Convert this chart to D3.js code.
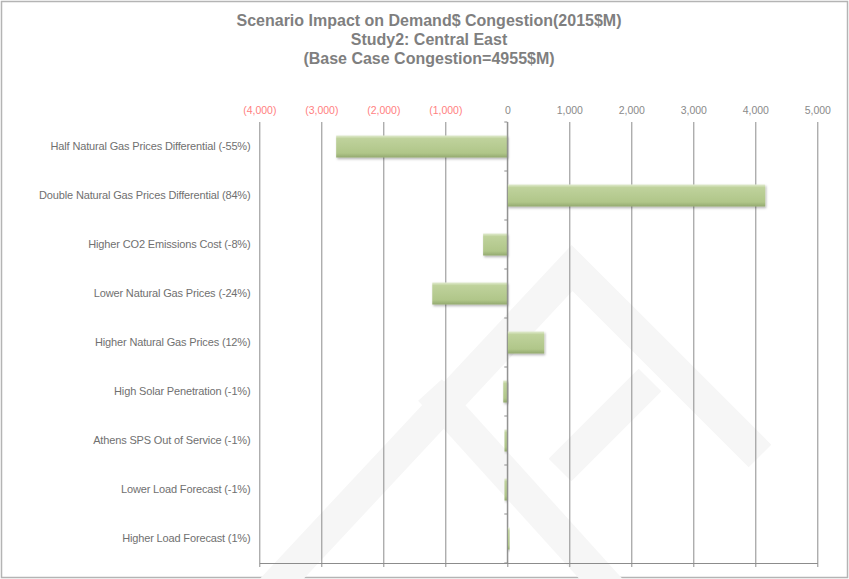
<!DOCTYPE html>
<html>
<head>
<meta charset="utf-8">
<script src="https://cdn.jsdelivr.net/npm/d3@7"></script>
<style>
  body { margin: 0; background: #fff; }
  svg { display: block; font-family: "Liberation Sans", Arial, sans-serif; }
</style>
</head>
<body>
<div id="chart"></div>
<script>
// data
var scenarios = [
  "Half Natural Gas Prices Differential (-55%)",
  "Double Natural Gas Prices Differential (84%)",
  "Higher CO2 Emissions Cost (-8%)",
  "Lower Natural Gas Prices (-24%)",
  "Higher Natural Gas Prices (12%)",
  "High Solar Penetration (-1%)",
  "Athens SPS Out of Service (-1%)",
  "Lower Load Forecast (-1%)",
  "Higher Load Forecast (1%)"
];
var impact = [-2760, 4160, -390, -1210, 595, -65, -45, -45, 35];
var tickValues = [-4000, -3000, -2000, -1000, 0, 1000, 2000, 3000, 4000, 5000];
var titleLines = [
  "Scenario Impact on Demand$ Congestion(2015$M)",
  "Study2: Central East",
  "(Base Case Congestion=4955$M)"
];

var W = 849, H = 579;
var plot = { left: 259.3, right: 817.3, top: 122, bottom: 563 };

var svg = d3.select("#chart").append("svg")
  .attr("width", W).attr("height", H);

var defs = svg.append("defs");
var grad = defs.append("linearGradient").attr("id", "barFill")
  .attr("x1", 0).attr("y1", 0).attr("x2", 0).attr("y2", 1);
grad.append("stop").attr("offset", "0%").attr("stop-color", "#e2ecd0");
grad.append("stop").attr("offset", "14%").attr("stop-color", "#bfd29c");
grad.append("stop").attr("offset", "80%").attr("stop-color", "#b0c689");
grad.append("stop").attr("offset", "100%").attr("stop-color", "#93a96f");

var shadow = defs.append("filter").attr("id", "shadow")
  .attr("x", "-10%").attr("y", "-30%").attr("width", "130%").attr("height", "180%");
shadow.append("feDropShadow").attr("dx", 1).attr("dy", 1.5)
  .attr("stdDeviation", 1.2).attr("flood-color", "#000").attr("flood-opacity", 0.3);

// outer frame
svg.append("rect")
  .attr("x", 1.5).attr("y", 1.5).attr("width", W - 3).attr("height", H - 3)
  .attr("fill", "#fff").attr("stroke", "#b4b4b4").attr("stroke-width", 1.5);

// faint watermark behind the plot
var wm = svg.append("g").attr("fill", "none").attr("stroke", "#f6f6f6")
  .attr("stroke-width", 32);
wm.append("path").attr("d", "M262,600 L572,268 L760,456");
wm.append("path").attr("d", "M430,390 L620,600");
wm.append("path").attr("d", "M560,470 L650,380");

// title
svg.append("g").selectAll("text").data(titleLines).join("text")
  .attr("x", 429).attr("y", function (d, i) { return 26 + i * 19; })
  .attr("text-anchor", "middle")
  .attr("font-size", "16px").attr("font-weight", "bold")
  .attr("fill", "#7f7f7f")
  .text(function (d) { return d; });

var x = d3.scaleLinear().domain([-4000, 5000]).range([plot.left, plot.right]);
var row = d3.scaleBand().domain(scenarios).range([plot.top, plot.bottom]).padding(0);
var barH = row.bandwidth() * 0.45;

var fmt = d3.format(",");

// gridlines + bottom axis
var grid = svg.append("g")
  .attr("transform", "translate(0," + plot.bottom + ")")
  .call(d3.axisBottom(x).tickValues(tickValues).tickSizeOuter(0).tickFormat(""));
grid.select(".domain").attr("stroke", "#8c8c8c");
grid.selectAll(".tick line")
  .attr("y1", 4).attr("y2", plot.top - plot.bottom)
  .attr("stroke", "#8c8c8c");

// top value labels
var topAxis = svg.append("g")
  .attr("transform", "translate(0," + (plot.top - 5) + ")")
  .call(d3.axisTop(x).tickValues(tickValues).tickSize(0)
    .tickFormat(function (d) { return d < 0 ? "(" + fmt(-d) + ")" : fmt(d); }));
topAxis.select(".domain").remove();
topAxis.selectAll(".tick text")
  .attr("font-family", "\"Liberation Sans\", Arial, sans-serif")
  .attr("font-size", "10.5px")
  .attr("fill", function (d) { return d < 0 ? "#ff7f7f" : "#8a8a8a"; });

// bars
svg.append("g").selectAll("rect").data(scenarios).join("rect")
  .attr("x", function (d, i) { return x(Math.min(0, impact[i])); })
  .attr("width", function (d, i) { return Math.abs(x(impact[i]) - x(0)); })
  .attr("y", function (d) { return row(d) + (row.bandwidth() - barH) / 2; })
  .attr("height", barH)
  .attr("fill", "url(#barFill)")
  .attr("filter", "url(#shadow)");

// category axis on zero line with ticks at row boundaries
var bounds = scenarios.map(function (d) { return row(d); }).concat([plot.bottom]);
var cat = svg.append("g");
cat.append("line")
  .attr("x1", x(0)).attr("x2", x(0)).attr("y1", plot.top).attr("y2", plot.bottom)
  .attr("stroke", "#8c8c8c");
cat.selectAll("line.tk").data(bounds).join("line").attr("class", "tk")
  .attr("x1", x(0) - 3).attr("x2", x(0))
  .attr("y1", function (d) { return d; }).attr("y2", function (d) { return d; })
  .attr("stroke", "#8c8c8c");

// left labels
svg.append("g").selectAll("text").data(scenarios).join("text")
  .attr("x", 250.5)
  .attr("y", function (d) { return row(d) + row.bandwidth() / 2; })
  .attr("dy", "0.35em")
  .attr("text-anchor", "end")
  .attr("font-size", "11px")
  .attr("letter-spacing", "-0.15px")
  .attr("fill", "#707070")
  .text(function (d) { return d; });
</script>
</body>
</html>
